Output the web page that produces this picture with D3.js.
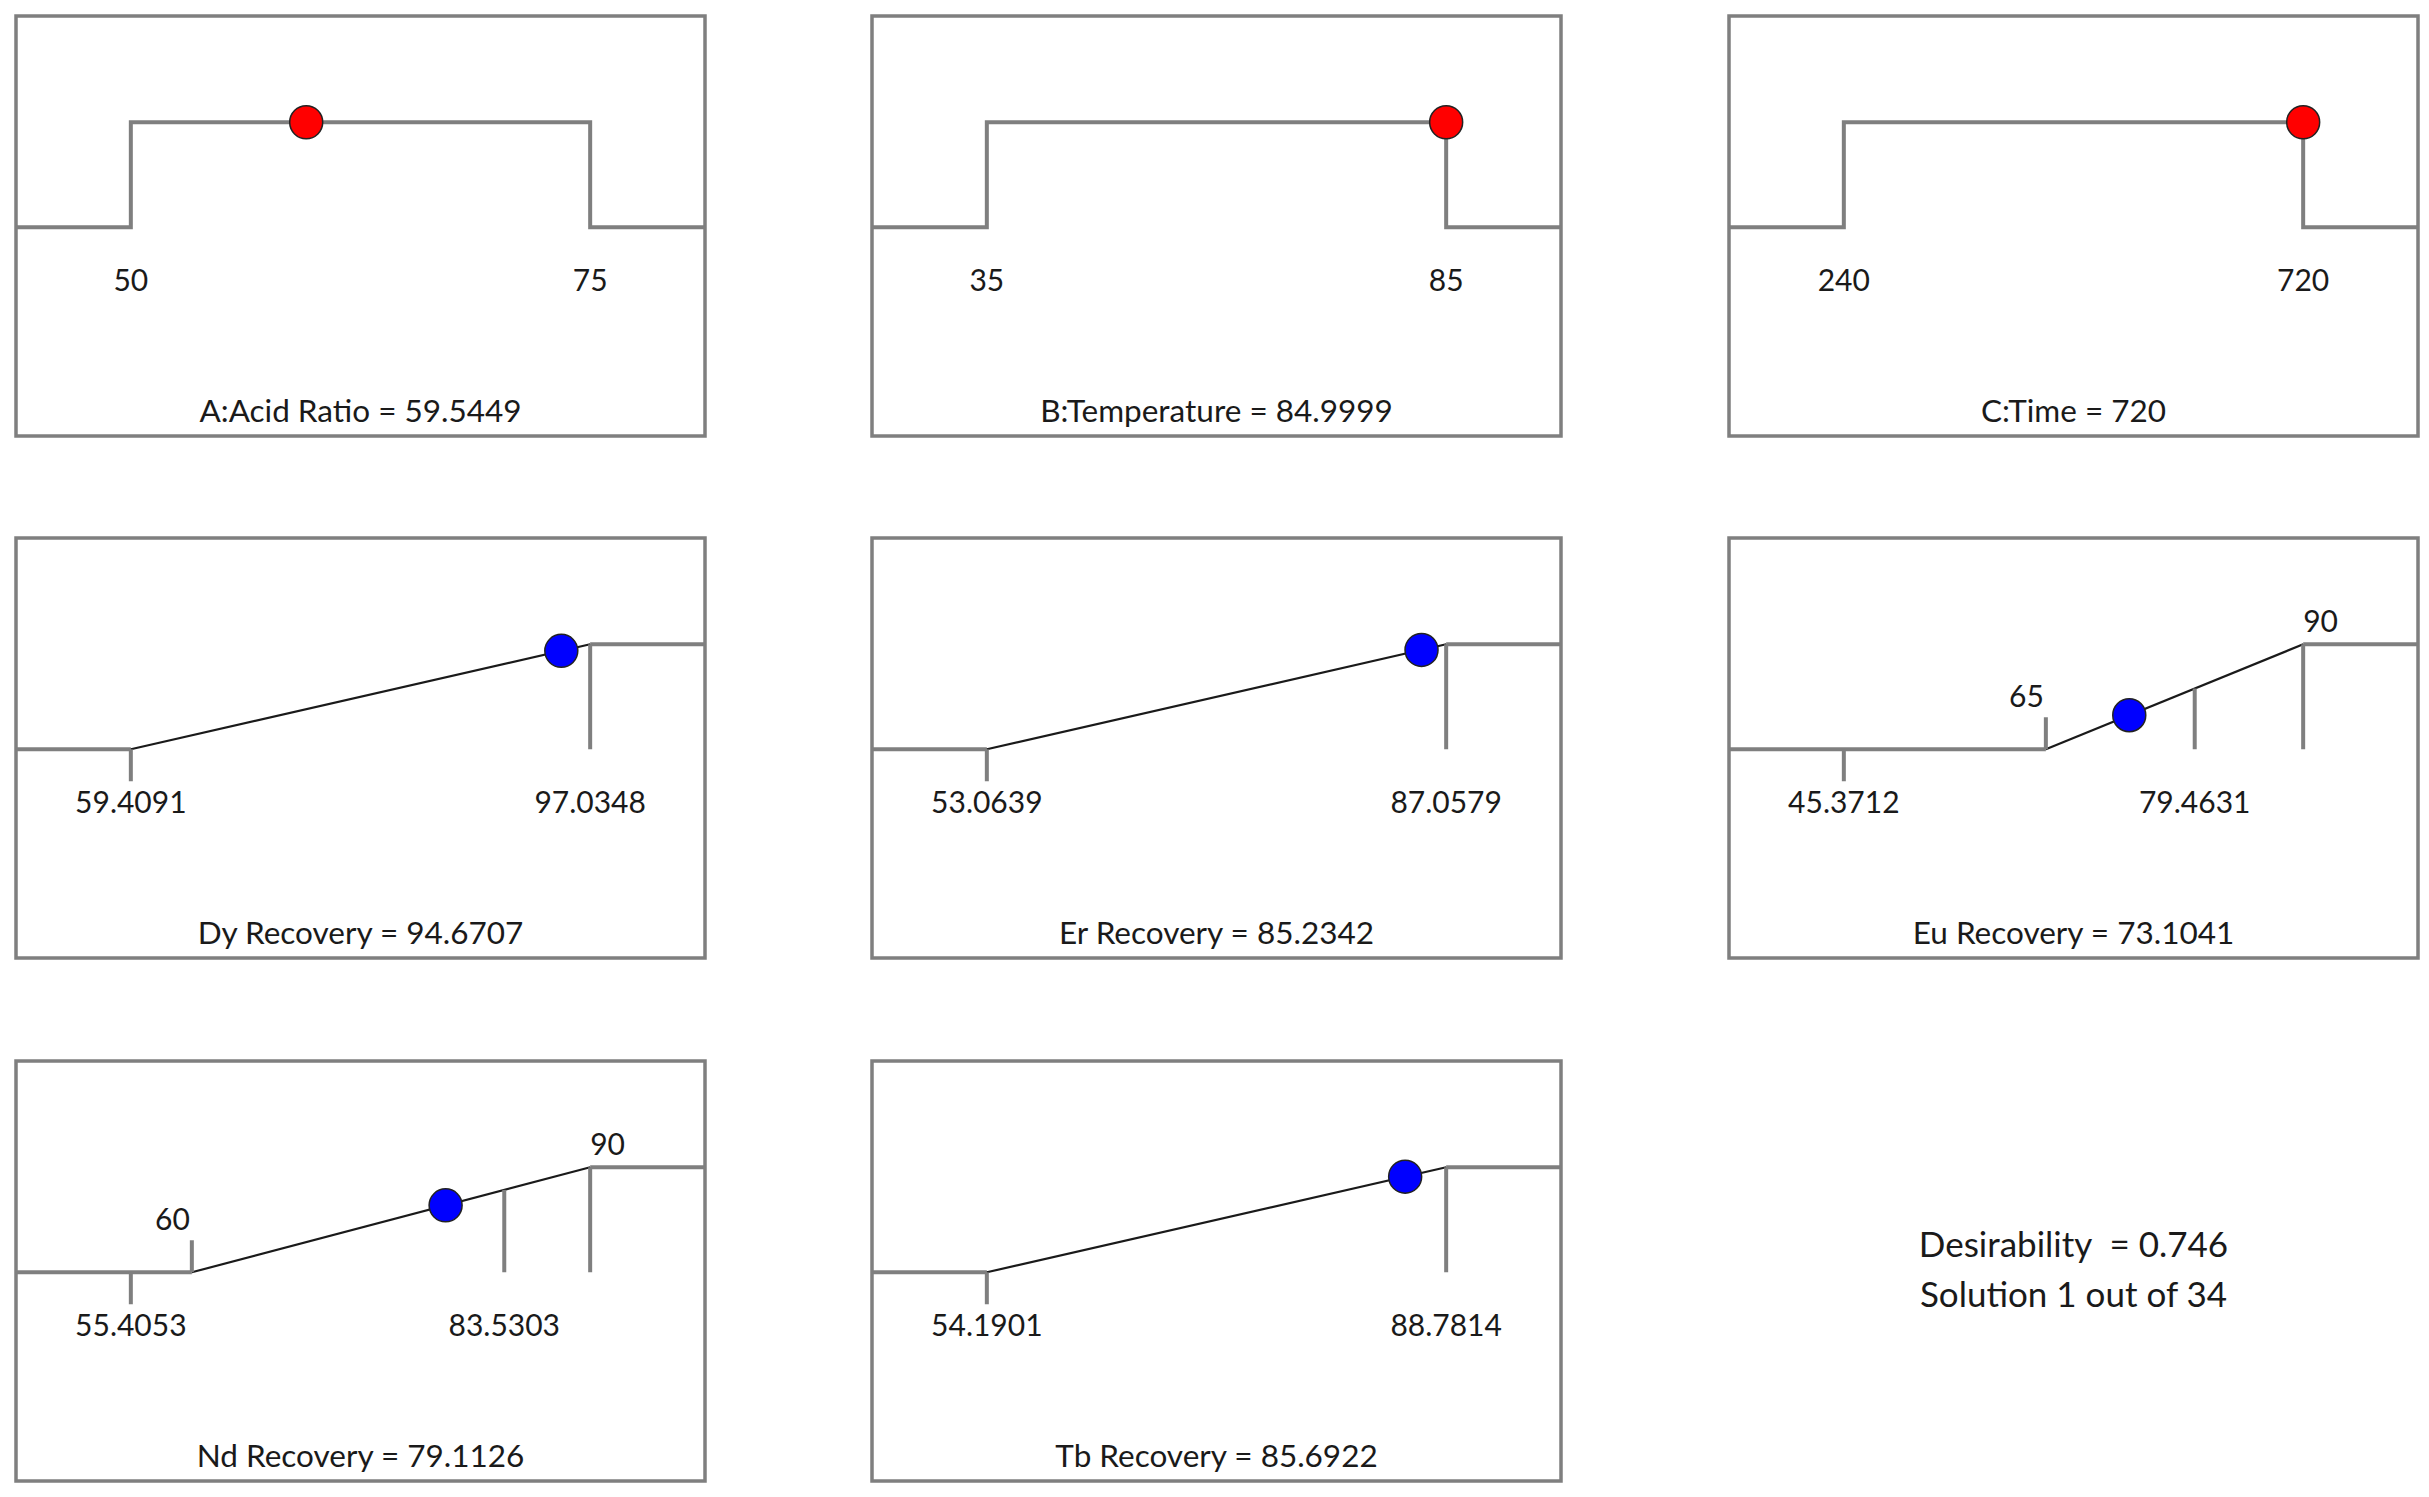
<!DOCTYPE html>
<html>
<head>
<meta charset="utf-8">
<script src="https://cdn.jsdelivr.net/npm/d3@7"></script>
<style>
  body { margin: 0; background: #fff; }
  text { font-family: "Segoe UI", Lato, "Open Sans", sans-serif; fill: #1a1a1a; }
</style>
</head>
<body>
<svg id="chart" width="2429" height="1497"></svg>
<script>
// factors
var factorNames = ["A:Acid Ratio", "B:Temperature", "C:Time"];
var factorLow = [50, 35, 240];
var factorHigh = [75, 85, 720];
var factorValue = ["59.5449", "84.9999", "720"];

// responses
var responseNames = ["Dy Recovery", "Er Recovery", "Eu Recovery", "Nd Recovery", "Tb Recovery"];
var responseMin = ["59.4091", "53.0639", "45.3712", "55.4053", "54.1901"];
var responseMax = ["97.0348", "87.0579", "79.4631", "83.5303", "88.7814"];
var goalLower = ["59.4091", "53.0639", "65", "60", "54.1901"];
var goalUpper = ["97.0348", "87.0579", "90", "90", "88.7814"];
var responseValue = ["94.6707", "85.2342", "73.1041", "79.1126", "85.6922"];

var desirability = "0.746";
var solutionNo = 1, solutionCount = 34;

var svg = d3.select("#chart");
var panelW = 689, panelH = 420;
var colX = [16, 872, 1729], rowY = [16, 538, 1061];
var gray = "#7f7f7f";

// desirability 0 -> low line, 1 -> high line
var yD = d3.scaleLinear().domain([0, 1]).range([panelH * 0.503, panelH * 0.253]);
var yLow = yD(0), yHigh = yD(1);

function makePanel(col, row, title) {
    var g = svg.append("g").attr("transform", "translate(" + colX[col] + "," + rowY[row] + ")");
    g.append("rect")
        .attr("x", 0).attr("y", 0)
        .attr("width", panelW).attr("height", panelH)
        .attr("fill", "none").attr("stroke", gray).attr("stroke-width", 3.5);
    g.append("text")
        .attr("x", panelW / 2).attr("y", panelH - 14)
        .attr("text-anchor", "middle").attr("font-size", 31.5)
        .text(title);
    return g;
}

function label(g, x, y, txt, anchor) {
    g.append("text")
        .attr("x", x).attr("y", y)
        .attr("text-anchor", anchor || "middle").attr("font-size", 30)
        .text(txt);
}

function dot(g, x, y, color) {
    g.append("circle")
        .attr("cx", x).attr("cy", y).attr("r", 16.5)
        .attr("fill", color).attr("stroke", "#222").attr("stroke-width", 1.5);
}

// factor panels: box-shaped desirability
factorNames.forEach(function(name, i) {
    var g = makePanel(i, 0, name + " = " + factorValue[i]);
    var x = d3.scaleLinear().domain([factorLow[i], factorHigh[i]]).range([panelW / 6, panelW * 5 / 6]);
    var pts = [[0, yLow], [x(factorLow[i]), yLow], [x(factorLow[i]), yHigh],
               [x(factorHigh[i]), yHigh], [x(factorHigh[i]), yLow], [panelW, yLow]];
    g.append("path")
        .attr("d", d3.line()(pts))
        .attr("fill", "none").attr("stroke", gray).attr("stroke-width", 4);
    label(g, x(factorLow[i]), yLow + 64, factorLow[i]);
    label(g, x(factorHigh[i]), yLow + 64, factorHigh[i]);
    dot(g, x(+factorValue[i]), yHigh, "#ff0000");
});

// response panels: ramp (maximize between lower and upper goal)
responseNames.forEach(function(name, i) {
    var col = (i + 3) % 3, row = Math.floor((i + 3) / 3);
    var g = makePanel(col, row, name + " = " + responseValue[i]);
    var lo = +goalLower[i], hi = +goalUpper[i];
    var dmin = +responseMin[i], dmax = +responseMax[i];
    var x = d3.scaleLinear()
        .domain([Math.min(dmin, lo), Math.max(dmax, hi)])
        .range([panelW / 6, panelW * 5 / 6]);
    var desir = function(v) { return Math.max(0, Math.min(1, (v - lo) / (hi - lo))); };

    g.append("path")
        .attr("d", d3.line()([[0, yLow], [x(lo), yLow]]))
        .attr("stroke", gray).attr("stroke-width", 4);
    g.append("path")
        .attr("d", d3.line()([[x(hi), yHigh], [panelW, yHigh]]))
        .attr("stroke", gray).attr("stroke-width", 4);
    g.append("path")
        .attr("d", d3.line()([[x(lo), yLow], [x(hi), yHigh]]))
        .attr("stroke", "#1a1a1a").attr("stroke-width", 2.2);

    // observed range ticks, labelled below
    [responseMin[i], responseMax[i]].forEach(function(s) {
        var v = +s, d = desir(v);
        if (d <= 0) {
            g.append("line").attr("x1", x(v)).attr("x2", x(v))
                .attr("y1", yLow).attr("y2", yLow + 32)
                .attr("stroke", gray).attr("stroke-width", 4);
        } else {
            g.append("line").attr("x1", x(v)).attr("x2", x(v))
                .attr("y1", yD(d)).attr("y2", yLow)
                .attr("stroke", gray).attr("stroke-width", 4);
        }
        label(g, x(v), yLow + 64, s);
    });

    // goal limits, labelled above when they differ from the observed range
    if (lo !== dmin) {
        g.append("line").attr("x1", x(lo)).attr("x2", x(lo))
            .attr("y1", yLow).attr("y2", yLow - 32)
            .attr("stroke", gray).attr("stroke-width", 4);
        label(g, x(lo) - 2, yLow - 42, goalLower[i], "end");
    }
    if (hi !== dmax) {
        g.append("line").attr("x1", x(hi)).attr("x2", x(hi))
            .attr("y1", yHigh).attr("y2", yLow)
            .attr("stroke", gray).attr("stroke-width", 4);
        label(g, x(hi), yHigh - 12, goalUpper[i], "start");
    }

    var v = +responseValue[i];
    dot(g, x(v), yD(desir(v)), "#0000ff");
});

// summary text
var sx = colX[2] + panelW / 2;
svg.append("text").attr("x", sx).attr("y", 1257)
    .attr("text-anchor", "middle").attr("font-size", 35)
    .attr("xml:space", "preserve").style("white-space", "pre")
    .text("Desirability  = " + desirability);
svg.append("text").attr("x", sx).attr("y", 1307)
    .attr("text-anchor", "middle").attr("font-size", 35)
    .text("Solution " + solutionNo + " out of " + solutionCount);
</script>
</body>
</html>
